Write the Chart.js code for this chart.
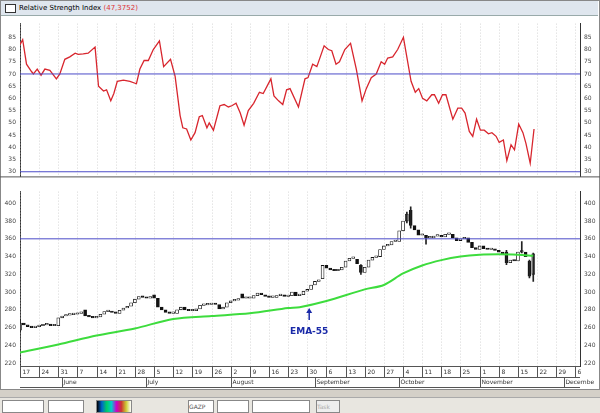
<!DOCTYPE html>
<html><head><meta charset="utf-8">
<script src="https://cdn.jsdelivr.net/npm/chart.js@4.4.1/dist/chart.umd.min.js"></script>
<style>
body{margin:0;width:600px;height:413px;background:#d4d0c8;overflow:hidden;position:relative;font-family:"DejaVu Sans",sans-serif}
#frame{position:absolute;left:0;top:0;width:598px;height:388px;background:#fff;border:1px solid #888}
#title{position:absolute;left:1px;top:1px;width:597px;height:14px;background:#dfe6ee;border-bottom:1px solid #9aa;font-size:7px;line-height:14px}
#title span{color:#d33}
canvas{position:absolute;left:0}
#tb{position:absolute;left:0;top:397px;width:600px;height:16px;background:#e8e6e0;border-top:1px solid #aaa}
.b{position:absolute;top:2px;height:11px;background:#fff;border:1px solid #888;font-size:6px;line-height:11px;color:#555}
</style></head><body>
<div id="frame"></div>
<div id="title"><span style="display:inline-block;width:9px;height:7px;border:1px solid #333;margin:0 3px 0 4px;vertical-align:middle;background:#fff"></span>Relative Strength Index <span>(47,3752)</span></div>
<canvas id="c1" width="600" height="168" style="top:16px;width:600px;height:168px"></canvas>
<canvas id="c2" width="600" height="204" style="top:184px;width:600px;height:204px"></canvas>
<div id="tb">
<div class="b" style="left:2px;width:40px"></div><div class="b" style="left:48px;width:34px"></div>
<div class="b" style="left:96px;width:34px;background:linear-gradient(90deg,#000,#06c,#0c6,#0cc,#c0c,#c33,#cc3,#fff)"></div>
<div class="b" style="left:188px;width:24px">GAZP</div><div class="b" style="left:217px;width:30px"></div><div class="b" style="left:252px;width:56px"></div>
<div class="b" style="left:316px;width:22px;background:#eee;color:#aaa">Task</div>
</div>
<script>
// RSI: trading-day index (0 = 17 May) and value
const rsiX=[0,0.7,1.7,3,3.5,4.5,5.5,6.5,7.8,9.5,10.4,11.7,13,14.4,15.2,16.5,17.8,19.6,20.5,21.8,22.6,23.7,24.5,25.4,27,28.7,30.4,31.3,32.4,33.5,34.8,36.4,37.5,39.3,40.5,41.8,42.5,43.5,44.6,45.7,46.8,47.6,48.8,49.4,50.5,52.2,53.3,54.4,55.3,56.4,57.5,58.5,59.6,61,62.5,63.5,65.5,66.3,67.5,68.6,69.6,70.5,72.7,74.4,75.2,76.4,77.5,79.4,80.5,81.4,82.5,83.4,84.8,86.3,87.8,89.3,90.4,91.7,93,94.3,95.2,96,97.3,98.6,100.1,102.1,103.2,104.1,105.1,106.2,107.5,108.2,109.3,110.3,111.2,113,114.3,115.3,116.2,117.3,118.2,119.2,120.2,121.2,122.3,123.2,124.3,125.1,126.2,127.1,128.2,129.1,130.2,131.3,132.1,133.2,134.2];
const rsiV=[82,84,74,71,70,72,69.5,72,71.5,68,70,76,77,78.5,78,78.2,78.5,81,65,63,63.5,59,62,67,67.5,67,66,72,75.5,75.5,80,83.5,73,76,69,53,48,47.5,43,46,52.5,53,48,50,47,57,57.5,56.5,57,58,54,49,55,58,62.5,62,68,61,59,57.5,63.5,64,56.5,68,68.5,74,73,81.5,80,79.5,74,75,80,82.5,72,59,64,68.5,70,75,74,76.5,77,80,85,67,62.5,64,60,59,61.5,61.5,58,61.5,61.5,51.5,56,56,54,46.5,44.5,51.5,47,47,45.5,46,44.5,42,43,34.5,41,39,49.5,46,41.5,33.5,47.5];
// Daily closes, index 0..134; open = previous close unless listed in openOverride
const closes=[265,263,261,260,261,262,263,264,262,262,271,273,274,274.5,275,276,277,273,272,271,
272,275,278,278,277,276,279.5,282,284,288,292,295,294,293,295,293,283,280,277,276,
276,280,283,280,279,279,281,285,285.5,286,287,286,281,283,288,290,291,292.5,293,293,
293,296,299,297,295,294,294,296,297,295,296,300,296,297,301,303,308,312,313.5,330,
327,325,324,325,328,335,338,338,332,322,328,336,339,340,348,352,353,357,357,369,
380,388,375,370,364,364,361,361,363,364,362,365,365,361,358,360,361,356,350,348,
352,349,348,348,347,345,343,333,336,335,345,345,340,318,343];
const openOverride={0:257,17:280,35:297,58:298,79:315,88:337,89:330,102:392,127:345,133:335,134:320};
// Notable wicks: index, low, high
const wickIdx=[0,89,101,102,106,127,131,133,134];
const wickLow=[255,320,378,372,354,331,344,316,312];
const wickHigh=[269,331,390,396,362,347,357,336,344];
// EMA-55
const emaX=[0,10,20,30,40,50,60,70,73,80,90,95,100,105,110,115,120,125,130,134];
const emaV=[232,241,251,259,269.7,273,276,282,283,290,303,308,321,330,336,340,342,342.5,342,341];
const weekLabels=['17','24','31','7','14','21','28','5','12','19','26','2','9','16','23','30','6','13','20','27','4','11','18','25','1','8','15','22','29','6'];
const months=[['June',11],['July',33],['August',55],['September',77],['October',99],['November',120],['Decembe',142]];
const rsiTicks=[30,35,40,45,50,55,60,65,70,75,80,85];
const priceTicks=[220,230,240,250,260,270,280,290,300,310,320,330,340,350,360,370,380,390,400];
const XMAX=146.2;

const F={family:'DejaVu Sans',size:6};
let XH=0;
function xAxis(){return {type:'linear',min:0,max:XMAX,offset:false,
  ticks:{display:false},border:{display:false},grid:{display:false,offset:false,drawTicks:false},
  afterFit:s=>{s.height=XH;}};}
function yAxis(pos,min,max,ticks){return {type:'linear',position:pos,min,max,
  afterBuildTicks:s=>{s.ticks=ticks.map(v=>({value:v}));},
  ticks:{font:F,color:'#444',padding:4},grid:{display:false,drawTicks:false,tickLength:0},
  border:{display:true,color:'#333',dash:[1,1]},afterFit:s=>{s.width=20;}};}
const dashGrid={id:'dg',beforeDatasetsDraw(c){const x=c.scales.x,a=c.chartArea,g=c.ctx;g.save();g.strokeStyle='#bbb';g.lineWidth=0.6;g.setLineDash([1,2]);
  for(let i=0;i<weekLabels.length;i++){const p=Math.round(x.getPixelForValue(i*5))+0.5;if(p>a.right)break;g.beginPath();g.moveTo(p,a.top);g.lineTo(p,a.bottom);g.stroke();}g.restore();}};
const hline=(v)=>({type:'line',data:[{x:0,y:v},{x:XMAX,y:v}],borderColor:'#4b4bc8',borderWidth:1,pointRadius:0});

XH=0;
new Chart(document.getElementById('c1'),{type:'line',
  data:{datasets:[hline(70),hline(30),
    {data:rsiX.map((x,i)=>({x,y:rsiV[i]})),borderColor:'#d8262e',borderWidth:1.3,pointRadius:0,tension:0}]},
  options:{responsive:false,animation:false,events:[],layout:{padding:0},
    plugins:{legend:{display:false},tooltip:{enabled:false}},
    scales:{x:xAxis(),y:yAxis('left',28.1,90.6,rsiTicks),y2:yAxis('right',28.1,90.6,rsiTicks)}},
  plugins:[dashGrid,{id:'bd',afterDraw(c){const a=c.chartArea,g=c.ctx;g.strokeStyle='#555';g.lineWidth=1;g.beginPath();g.moveTo(0,a.bottom+0.5);g.lineTo(600,a.bottom+0.5);g.stroke();}}]});

XH=22;
const candles=closes.map((cl,i)=>({x:i,y:[i in openOverride?openOverride[i]:closes[i-1],cl]}));
const wicks=wickIdx.map((x,i)=>({x,y:[wickLow[i],wickHigh[i]]}));
new Chart(document.getElementById('c2'),{type:'bar',
  data:{datasets:[
    {type:'line',data:emaX.map((x,i)=>({x,y:emaV[i]})),borderColor:'#3ddc3d',borderWidth:2,pointRadius:0,tension:0.3},
    hline(360),
    {type:'bar',data:wicks,barThickness:1,backgroundColor:'#222',borderWidth:0,grouped:false},
    {type:'bar',data:candles,barThickness:3,minBarLength:1.5,borderWidth:0.8,borderSkipped:false,borderColor:'#111',grouped:false,
      backgroundColor:ctx=>{const r=ctx.raw;return r&&r.y[1]<r.y[0]?'#111':'#fff';}}]},
  options:{responsive:false,animation:false,events:[],layout:{padding:{top:1}},
    plugins:{legend:{display:false},tooltip:{enabled:false}},
    scales:{x:xAxis(),y:yAxis('left',216.7,413.2,priceTicks),y2:yAxis('right',216.7,413.2,priceTicks)}},
  plugins:[dashGrid,{id:'ax',afterDraw(c){const a=c.chartArea,x=c.scales.x,y=c.scales.y,g=c.ctx;g.save();
    g.strokeStyle='#555';g.lineWidth=1;g.beginPath();g.moveTo(a.left,a.bottom+0.5);g.lineTo(a.right,a.bottom+0.5);
    g.moveTo(a.left,a.bottom+11.5);g.lineTo(a.right,a.bottom+11.5);g.moveTo(a.left,a.bottom+21.5);g.lineTo(a.right,a.bottom+21.5);g.stroke();
    g.font='6px "DejaVu Sans"';g.fillStyle='#333';g.textBaseline='middle';
    weekLabels.forEach((l,i)=>{const p=Math.round(x.getPixelForValue(i*5))+0.5;g.beginPath();g.moveTo(p,a.bottom);g.lineTo(p,a.bottom+11);g.stroke();g.fillText(l,p+2,a.bottom+6);});
    months.forEach(([m,v])=>{const p=Math.round(x.getPixelForValue(v))+0.5;g.beginPath();g.moveTo(p,a.bottom+11);g.lineTo(p,a.bottom+21);g.stroke();g.fillText(m,p+1,a.bottom+16);});
    const px=x.getPixelForValue(75.5),py=y.getPixelForValue(282);
    g.strokeStyle='#1a2aa8';g.fillStyle='#1a2aa8';g.lineWidth=1.5;g.beginPath();g.moveTo(px,py+2);g.lineTo(px,py+12);g.stroke();
    g.beginPath();g.moveTo(px-3,py+5);g.lineTo(px,py);g.lineTo(px+3,py+5);g.fill();
    g.font='bold 9px "DejaVu Sans"';g.textAlign='center';g.fillText('EMA-55',px,py+24);g.restore();}}]});
</script></body></html>
